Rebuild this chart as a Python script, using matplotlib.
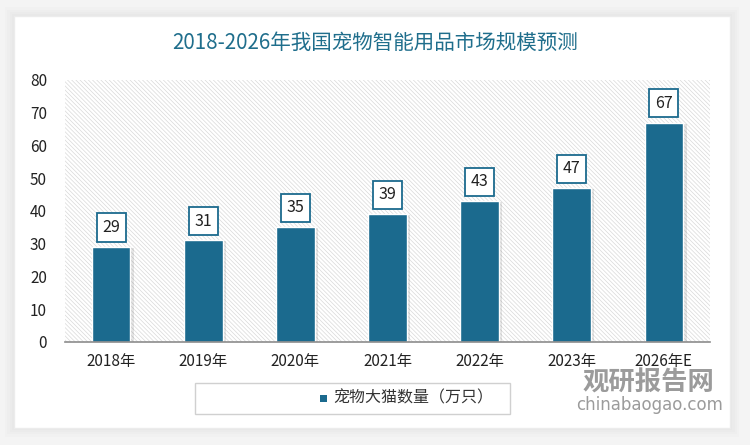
import numpy as np
import matplotlib.pyplot as plt
from matplotlib.patches import Rectangle

plt.rcParams['font.family'] = ['Noto Sans CJK SC', 'DejaVu Sans']
plt.rcParams['hatch.color'] = '#d9d9d9'
plt.rcParams['hatch.linewidth'] = 0.5

# 数据
years = ['2018年', '2019年', '2020年', '2021年', '2022年', '2023年', '2026年E']
values = [29, 31, 35, 39, 43, 47, 67]
series_name = '宠物大猫数量（万只）'
title = '2018-2026年我国宠物智能用品市场规模预测'

bar_color = '#1b6a8e'
title_color = '#1f6e8c'

fig = plt.figure(figsize=(7.5, 4.45), dpi=100)
fig.patch.set_facecolor('#f4f4f4')

# 白色卡片及阴影
for i in range(4):
    d = (4 - i) * 0.003
    fig.patches.append(Rectangle((14 / 750 - d, 1 - 428 / 445 - d * 1.6), 716 / 750 + 2 * d, 412 / 445 + 2 * d * 1.6,
                                 transform=fig.transFigure, facecolor='black', alpha=0.012,
                                 edgecolor='none', zorder=0))
fig.patches.append(Rectangle((14 / 750, 1 - 428 / 445), 716 / 750, 412 / 445,
                             transform=fig.transFigure, facecolor='white', edgecolor='#ececec',
                             zorder=1))

fig.text(0.5, 1 - 43 / 445, title, ha='center', va='center', fontsize=14.8, color=title_color)

ax = fig.add_axes([65 / 750, 1 - 342 / 445, 645 / 750, 262 / 445])
ax.set_zorder(2)
ax.set_facecolor('none')
ax.add_patch(Rectangle((0, 0), 1, 1, transform=ax.transAxes, facecolor='white',
                       edgecolor='#d9d9d9', linewidth=0, hatch='\\' * 8, zorder=0))

x = np.arange(len(years))
w = 0.42
# 阴影
ax.bar(x + 0.025, values, width=w + 0.02, color='#000000', alpha=0.10, zorder=1, bottom=-0.3)
ax.bar(x, values, width=w, color=bar_color, edgecolor='white', linewidth=1.0, zorder=2)

for xi, v in zip(x, values):
    ax.annotate(str(v), (xi, v), xytext=(0, 14), textcoords='offset points',
                ha='center', va='center', fontsize=11.5, color='#222222', zorder=4,
                bbox=dict(boxstyle='square,pad=0.35', facecolor='white', edgecolor=bar_color, linewidth=1.3))

ax.set_xlim(-0.5, len(years) - 0.5)
ax.set_ylim(0, 80)
ax.set_yticks(range(0, 81, 10))
ax.set_xticks(x)
ax.set_xticklabels(years, fontsize=11, color='#222222')
ax.tick_params(axis='y', length=0, labelsize=11, labelcolor='#222222', pad=13)
ax.tick_params(axis='x', length=0, pad=8)
for s in ['top', 'right', 'left']:
    ax.spines[s].set_visible(False)
ax.spines['bottom'].set_color('#8c8c8c')
ax.spines['bottom'].set_linewidth(1.2)

# 图例框
fig.patches.append(Rectangle((195 / 750, 1 - 414 / 445), 315 / 750, 31 / 445,
                             transform=fig.transFigure, facecolor='white', edgecolor='#d0d0d0',
                             linewidth=1, zorder=3))
fig.patches.append(Rectangle((320 / 750, 1 - 402 / 445), 7 / 750, 7 / 445,
                             transform=fig.transFigure, facecolor=bar_color, edgecolor='none', zorder=4))
fig.text(333 / 750, 1 - 398 / 445, series_name, ha='left', va='center', fontsize=11.5,
         color='#333333', zorder=5)

# 水印
fig.text(583 / 750, 1 - 383 / 445, '观研报告网', ha='left', va='center', fontsize=19,
         fontweight='bold', color='#7a7a7a', alpha=0.75, zorder=6)
fig.text(576 / 750, 1 - 405 / 445, 'chinabaogao.com', ha='left', va='center', fontsize=12,
         color='#7a7a7a', alpha=0.75, zorder=6, family=['DejaVu Sans'])

fig.savefig('out.png', dpi=100, facecolor=fig.get_facecolor())
